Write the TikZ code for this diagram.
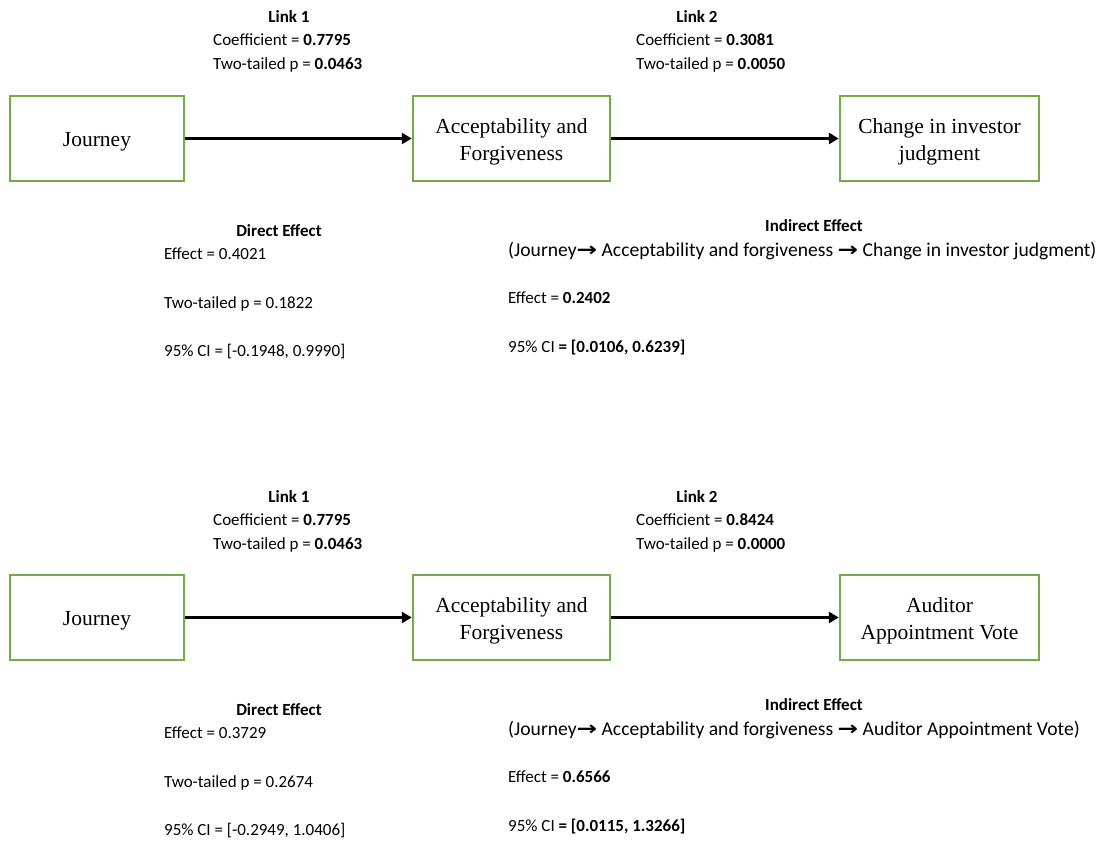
\documentclass[tikz,border=0pt]{standalone}
\usepackage{graphicx}
\usepackage{fontspec}
\setmainfont{Carlito}
\newfontfamily\boxfont{Liberation Serif}
\newfontfamily\symfont{DejaVu Sans}
\usetikzlibrary{arrows.meta}
\definecolor{boxgreen}{HTML}{70AD47}
\newcommand\rarr{\scalebox{1.25}[1]{\symfont\bfseries →}}
\begin{document}
\begin{tikzpicture}[x=1pt,y=-1pt,
  varbox/.style={draw=boxgreen, line width=1.4pt, inner sep=0pt,
    minimum height=85pt},
  boxtext/.style={align=center, inner sep=0pt, yshift=-3.5pt,
    font=\boxfont\fontsize{21.5}{27}\selectfont},
  link/.style={draw=black, line width=2.8pt,
    -{Triangle[length=10pt,width=11pt]}, shorten >=0.5pt},
  txt/.style={anchor=base west, inner sep=0pt, font=\fontsize{17}{20}\selectfont},
  pathtxt/.style={anchor=base west, inner sep=0pt, font=\fontsize{19.6}{22}\selectfont},
  head/.style={anchor=base, inner sep=0pt, font=\bfseries\fontsize{17}{20}\selectfont}]
\useasboundingbox (0,0) rectangle (1115,840);

% ---------- upper model: investor judgment ----------
\node[varbox, minimum width=174pt,
  label={[boxtext, name=j1t]center:Journey}] (j1) at (97,138.5) {};
\node[varbox, minimum width=197pt,
  label={[boxtext, name=a1t]center:Acceptability and\\Forgiveness}] (a1) at (511.5,138.5) {};
\node[varbox, minimum width=199pt,
  label={[boxtext, name=c1t]center:Change in investor\\judgment}] (c1) at (939.5,138.5) {};
\draw[link] (j1) -- (a1);
\draw[link] (a1) -- (c1);

\node[head] (l1h) at (289,23) {Link 1};
\node[txt] (l1c) at (213,46) {Coefficient = \textbf{0.7795}};
\node[txt] (l1p) at (213,70) {Two-tailed p = \textbf{0.0463}};
\node[head] (l2h) at (697,23) {Link 2};
\node[txt] (l2c) at (636,46) {Coefficient = \textbf{0.3081}};
\node[txt] (l2p) at (636,70) {Two-tailed p = \textbf{0.0050}};

\node[head] (d1h) at (279,236) {Direct Effect};
\node[txt] (d1e) at (164,259) {Effect = 0.4021};
\node[txt] (d1p) at (164,308) {Two-tailed p = 0.1822};
\node[txt] (d1c) at (164,356) {95\% CI = [-0.1948, 0.9990]};

\node[head] (i1h) at (814,231) {Indirect Effect};
\node[pathtxt] (i1t) at (508,256) {(Journey\rarr\ Acceptability and forgiveness \rarr\ Change in investor judgment)};
\node[txt] (i1e) at (508,303) {Effect = \textbf{0.2402}};
\node[txt] (i1c) at (508,352) {95\% CI \textbf{= [0.0106, 0.6239]}};

% ---------- lower model: auditor appointment vote ----------
\node[varbox, minimum width=174pt,
  label={[boxtext, name=j2t]center:Journey}] (j2) at (97,617.5) {};
\node[varbox, minimum width=197pt,
  label={[boxtext, name=a2t]center:Acceptability and\\Forgiveness}] (a2) at (511.5,617.5) {};
\node[varbox, minimum width=199pt,
  label={[boxtext, name=c2t]center:Auditor\\Appointment Vote}] (c2) at (939.5,617.5) {};
\draw[link] (j2) -- (a2);
\draw[link] (a2) -- (c2);

\node[head] (l3h) at (289,502) {Link 1};
\node[txt] (l3c) at (213,525) {Coefficient = \textbf{0.7795}};
\node[txt] (l3p) at (213,549) {Two-tailed p = \textbf{0.0463}};
\node[head] (l4h) at (697,502) {Link 2};
\node[txt] (l4c) at (636,525) {Coefficient = \textbf{0.8424}};
\node[txt] (l4p) at (636,549) {Two-tailed p = \textbf{0.0000}};

\node[head] (d2h) at (279,715) {Direct Effect};
\node[txt] (d2e) at (164,738) {Effect = 0.3729};
\node[txt] (d2p) at (164,787) {Two-tailed p = 0.2674};
\node[txt] (d2c) at (164,835) {95\% CI = [-0.2949, 1.0406]};

\node[head] (i2h) at (814,710) {Indirect Effect};
\node[pathtxt] (i2t) at (508,735) {(Journey\rarr\ Acceptability and forgiveness \rarr\ Auditor Appointment Vote)};
\node[txt] (i2e) at (508,782) {Effect = \textbf{0.6566}};
\node[txt] (i2c) at (508,831) {95\% CI \textbf{= [0.0115, 1.3266]}};
\end{tikzpicture}
\end{document}
